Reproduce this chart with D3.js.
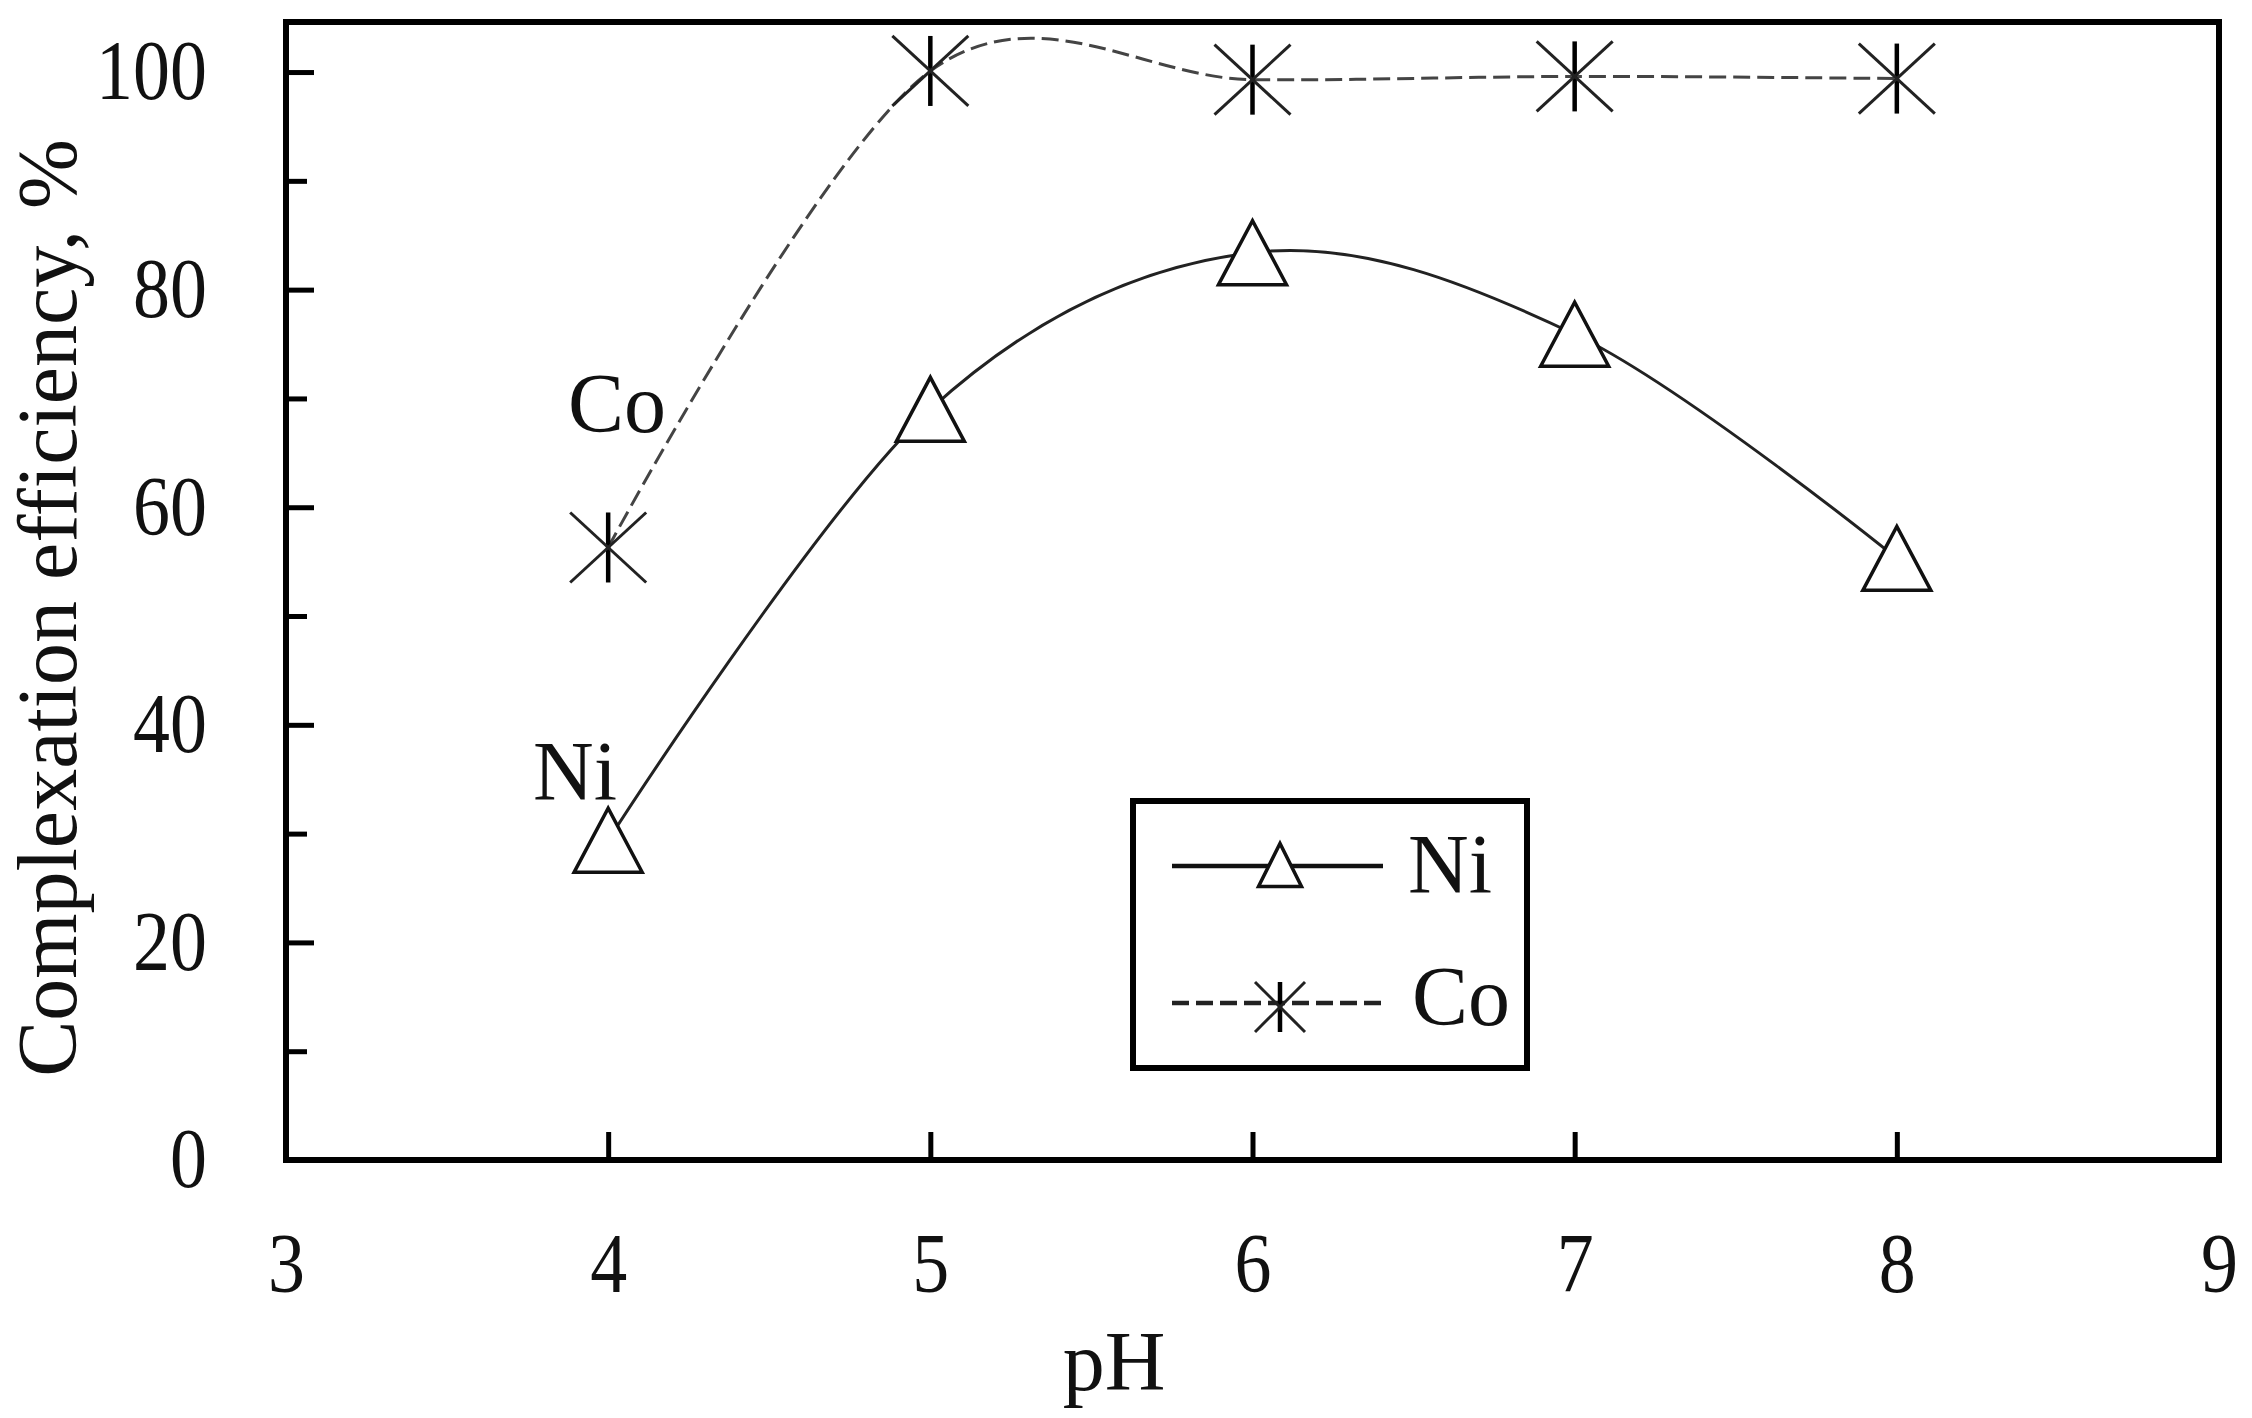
<!DOCTYPE html>
<html>
<head>
<meta charset="utf-8">
<script src="https://cdn.jsdelivr.net/npm/d3@7"></script>
<style>
  body { margin: 0; background: #fff; }
  svg text { font-family: "Liberation Serif", "Times New Roman", serif; fill: #111; }
</style>
</head>
<body>
<svg width="2252" height="1418"></svg>
<script>
// values
const phValues = [4, 5, 6, 7, 8];
const niValues = [29.4, 69.0, 83.4, 75.9, 55.3];
const coValues = [56.3, 100.1, 99.3, 99.6, 99.4];
const xTicks = [3, 4, 5, 6, 7, 8, 9];
const yTicks = [0, 10, 20, 30, 40, 50, 60, 70, 80, 90, 100];
const yLabels = [0, 20, 40, 60, 80, 100];

const FONT_SIZE = 84;
const margin = { left: 286, right: 2219, top: 22, bottom: 1160 };

const svg = d3.select('svg');

const x = d3.scaleLinear().domain([3, 9]).range([margin.left, margin.right]);
const y = d3.scaleLinear().domain([0, 104.6]).range([margin.bottom, margin.top]);

// the tick digits in the picture are a bit narrower than Times
function squeeze(sel) {
  sel.each(function () {
    const len = this.getComputedTextLength();
    if (len > 0) {
      d3.select(this).attr('textLength', len * 0.88).attr('lengthAdjust', 'spacingAndGlyphs');
    }
  });
}

// x axis, ticks pointing inward
const xAxis = svg.append('g')
  .attr('transform', `translate(0,${margin.bottom})`)
  .call(d3.axisBottom(x).tickValues(xTicks).tickSize(-28).tickFormat(d3.format('d')));
xAxis.select('.domain').remove();
xAxis.selectAll('line').attr('stroke', '#000').attr('stroke-width', 5);
xAxis.selectAll('text')
  .attr('y', 132).attr('dy', null)
  .style('font-size', `${FONT_SIZE}px`)
  .style('font-family', '"Liberation Serif", serif')
  .attr('fill', '#111')
  .call(squeeze);

// y axis, labels only every 20
const yAxis = svg.append('g')
  .attr('transform', `translate(${margin.left},0)`)
  .call(d3.axisLeft(y).tickValues(yTicks).tickSize(-28).tickPadding(79)
    .tickFormat(d => yLabels.includes(d) ? d : ''));
yAxis.select('.domain').remove();
yAxis.selectAll('line')
  .attr('stroke', '#000').attr('stroke-width', 5)
  .attr('x2', d => yLabels.includes(d) ? 28 : 21);
yAxis.selectAll('text')
  .style('font-size', `${FONT_SIZE}px`)
  .style('font-family', '"Liberation Serif", serif')
  .attr('fill', '#111')
  .call(squeeze);

// frame
svg.append('rect')
  .attr('x', margin.left).attr('y', margin.top)
  .attr('width', margin.right - margin.left)
  .attr('height', margin.bottom - margin.top)
  .attr('fill', 'none').attr('stroke', '#000').attr('stroke-width', 6);

// axis titles
svg.append('text')
  .attr('x', 1114).attr('y', 1390)
  .attr('text-anchor', 'middle')
  .style('font-size', `${FONT_SIZE}px`)
  .text('pH');

svg.append('text')
  .attr('transform', 'translate(76,608) rotate(-90)')
  .attr('text-anchor', 'middle')
  .style('font-size', `${FONT_SIZE}px`)
  .text('Complexation efficiency, %');

// curves
const line = d3.line()
  .x((d, i) => x(phValues[i]))
  .y(d => y(d))
  .curve(d3.curveCardinal.tension(0));

svg.append('path')
  .datum(coValues)
  .attr('d', line)
  .attr('fill', 'none')
  .attr('stroke', '#444')
  .attr('stroke-width', 3)
  .attr('stroke-dasharray', '17,7');

svg.append('path')
  .datum(niValues)
  .attr('d', line)
  .attr('fill', 'none')
  .attr('stroke', '#222')
  .attr('stroke-width', 3);

function trianglePath(w, h) {
  return `M${-w / 2},${h / 2}L0,${-h / 2}L${w / 2},${h / 2}Z`;
}

function drawAsterisk(g, r, rx) {
  g.append('line').attr('x1', 0).attr('y1', -r).attr('x2', 0).attr('y2', r)
    .attr('stroke', '#000').attr('stroke-width', 4.5);
  g.append('line').attr('x1', -rx).attr('y1', -r).attr('x2', rx).attr('y2', r)
    .attr('stroke', '#222').attr('stroke-width', 3);
  g.append('line').attr('x1', -rx).attr('y1', r).attr('x2', rx).attr('y2', -r)
    .attr('stroke', '#222').attr('stroke-width', 3);
}

// Co markers
svg.append('g').selectAll('g')
  .data(coValues)
  .enter()
  .append('g')
  .attr('transform', (d, i) => `translate(${x(phValues[i])} ${y(d)})`)
  .each(function () { drawAsterisk(d3.select(this), 35, 38); });

// Ni markers
svg.append('g').selectAll('path')
  .data(niValues)
  .enter()
  .append('path')
  .attr('transform', (d, i) => `translate(${x(phValues[i])} ${y(d)})`)
  .attr('d', trianglePath(68, 64))
  .attr('fill', '#fff')
  .attr('stroke', '#111')
  .attr('stroke-width', 3.5);

// curve labels
svg.append('text').attr('x', 568).attr('y', 432)
  .style('font-size', `${FONT_SIZE}px`).text('Co');
svg.append('text').attr('x', 533).attr('y', 800)
  .style('font-size', `${FONT_SIZE}px`).text('Ni');

// legend
const legend = svg.append('g');
legend.append('rect')
  .attr('x', 1133).attr('y', 801).attr('width', 394).attr('height', 267)
  .attr('fill', '#fff').attr('stroke', '#000').attr('stroke-width', 6);

legend.append('line')
  .attr('x1', 1172).attr('x2', 1383).attr('y1', 866).attr('y2', 866)
  .attr('stroke', '#111').attr('stroke-width', 4.5);
legend.append('path')
  .attr('transform', 'translate(1280 865)')
  .attr('d', trianglePath(43, 43))
  .attr('fill', '#fff').attr('stroke', '#111').attr('stroke-width', 3.5);
legend.append('text').attr('x', 1408).attr('y', 893)
  .style('font-size', `${FONT_SIZE}px`).text('Ni');

legend.append('line')
  .attr('x1', 1172).attr('x2', 1383).attr('y1', 1003).attr('y2', 1003)
  .attr('stroke', '#222').attr('stroke-width', 4.5)
  .attr('stroke-dasharray', '17,7');
drawAsterisk(legend.append('g').attr('transform', 'translate(1280 1007)'), 25, 25);
legend.append('text').attr('x', 1412).attr('y', 1025)
  .style('font-size', `${FONT_SIZE}px`).text('Co');
</script>
</body>
</html>
